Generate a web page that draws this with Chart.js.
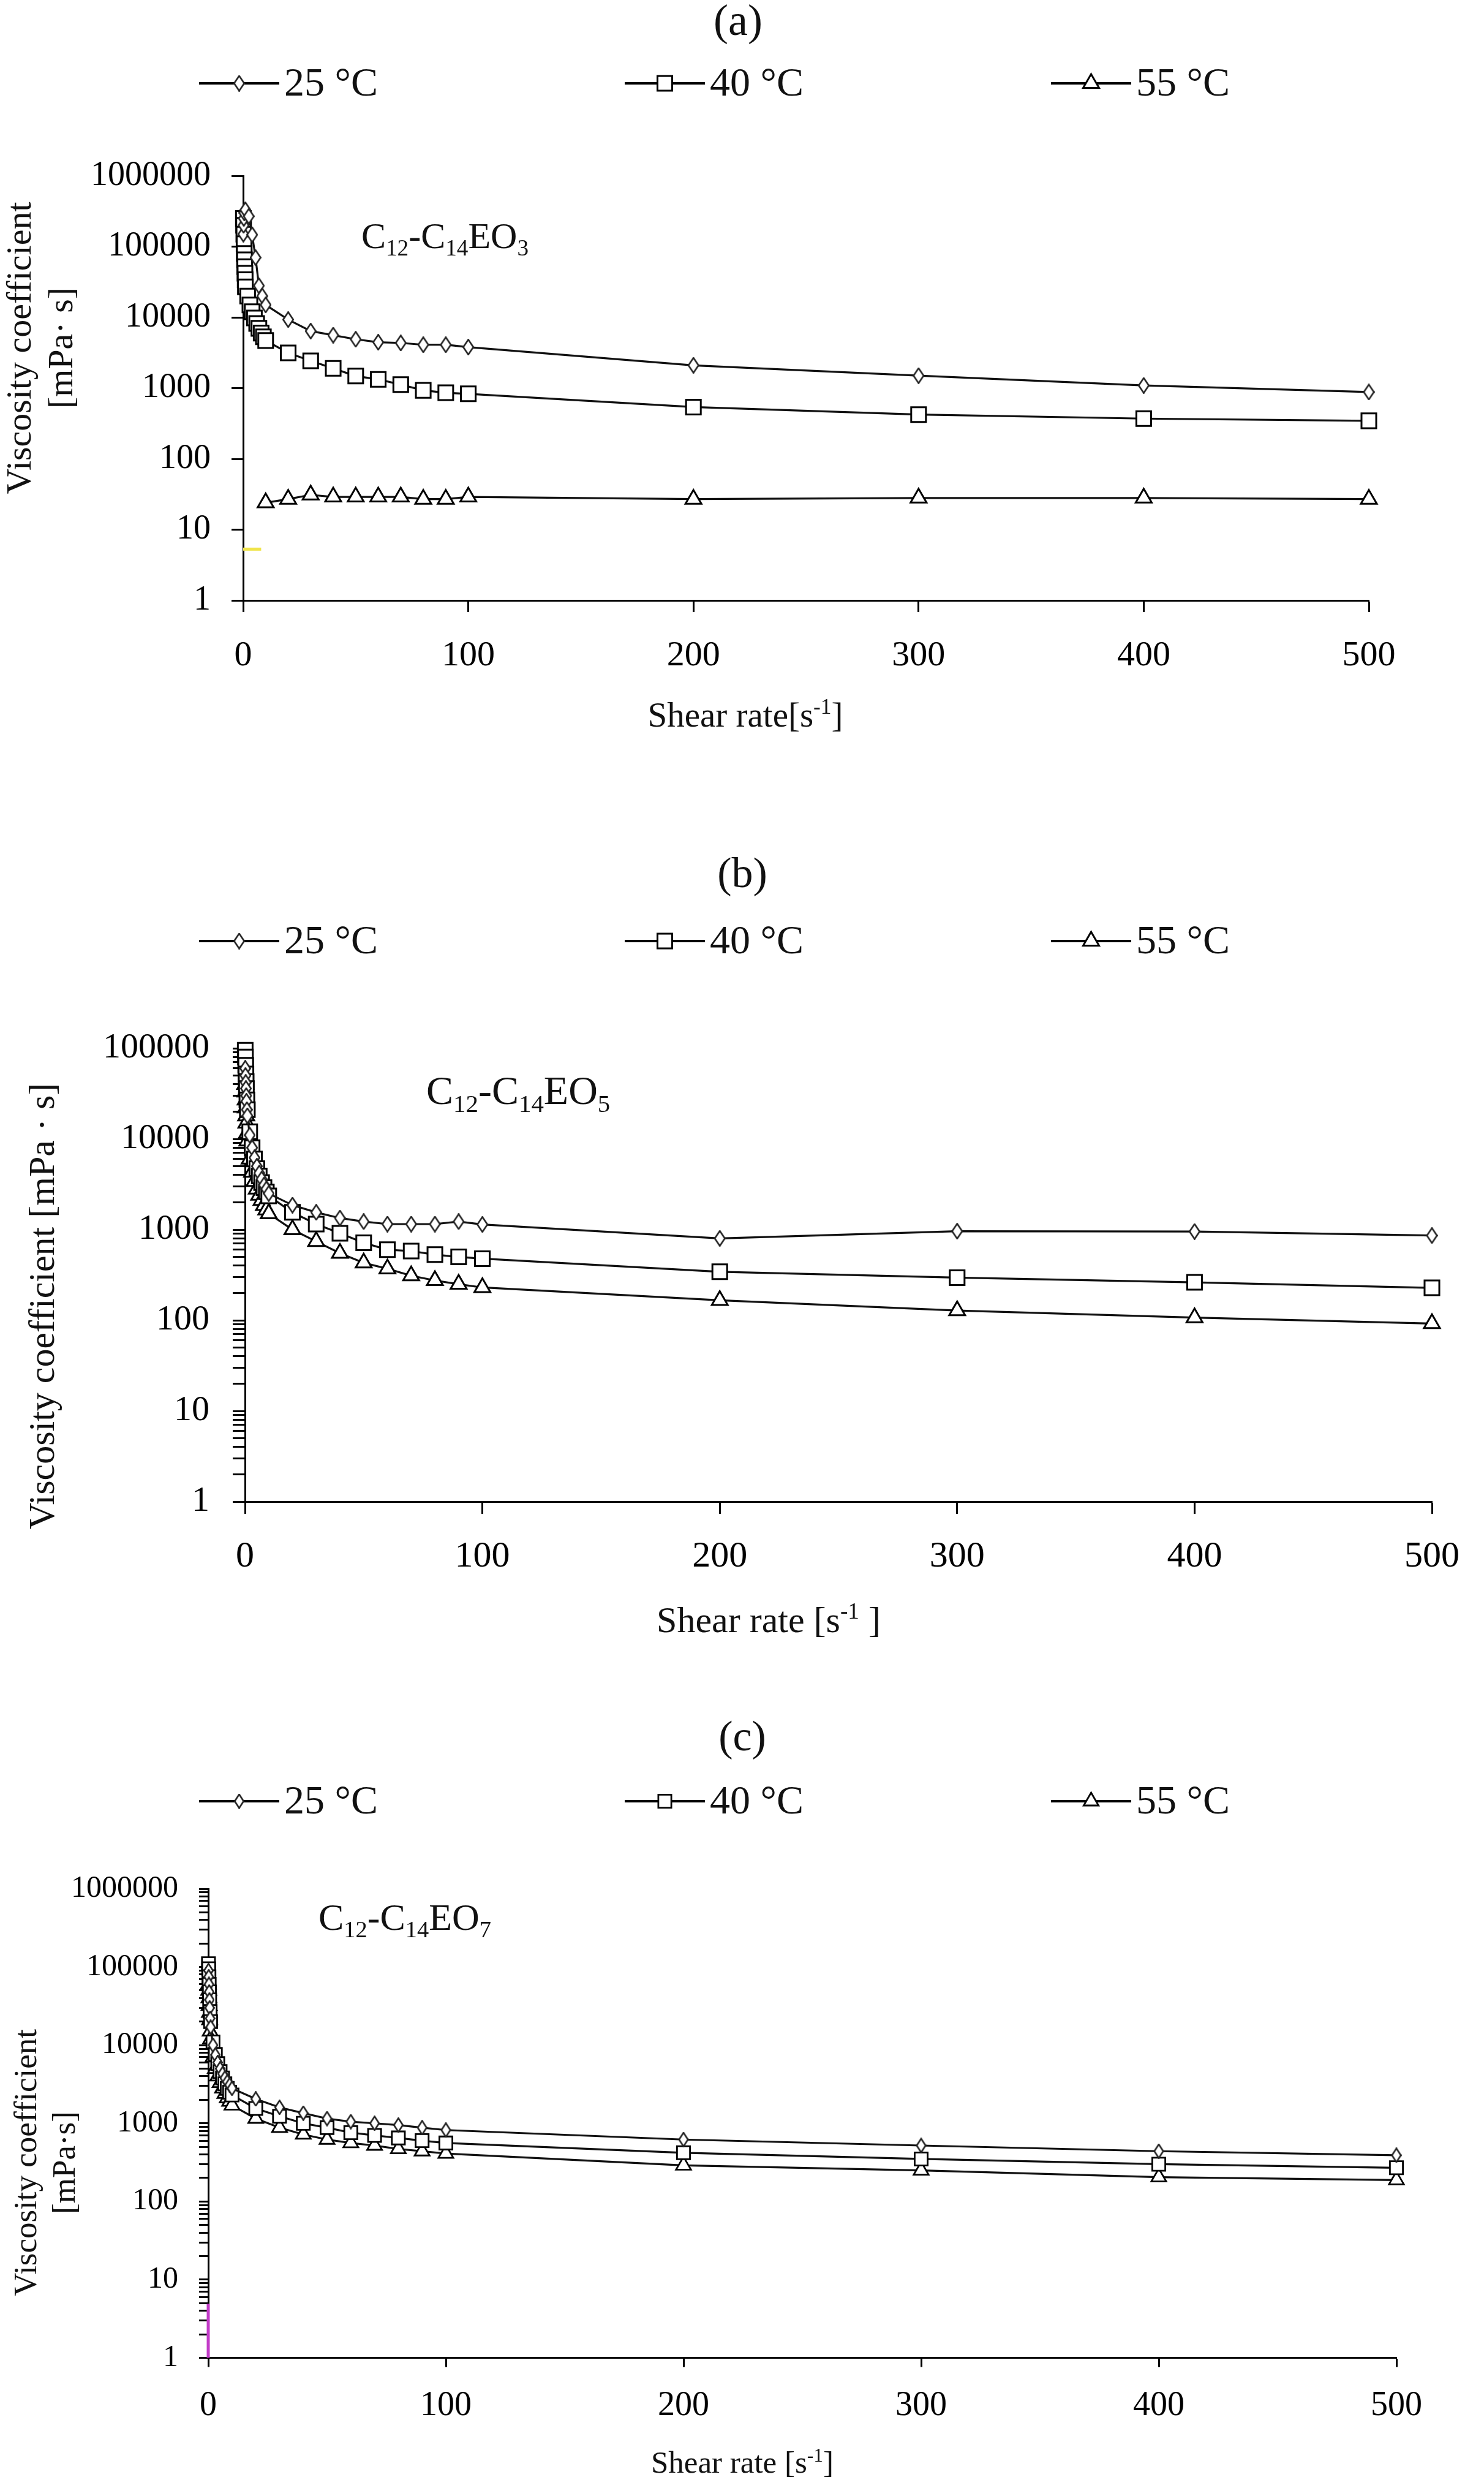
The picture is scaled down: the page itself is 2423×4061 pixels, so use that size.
<!DOCTYPE html>
<html>
<head>
<meta charset="utf-8">
<script src="https://cdn.jsdelivr.net/npm/chart.js@4.4.1/dist/chart.umd.min.js"></script>
<style>
  html, body { margin: 0; padding: 0; background: #fff; }
  #page { position: relative; width: 2423px; height: 4061px; background: #fff; }
  #page canvas { position: absolute; left: 0; }
</style>
</head>
<body>
<div id="page">
  <canvas id="chartA" width="2423" height="1250" style="top:0px"></canvas>
  <canvas id="chartB" width="2423" height="1420" style="top:1300px"></canvas>
  <canvas id="chartC" width="2423" height="1301" style="top:2760px"></canvas>
</div>
<script>
const SERIF = '"Liberation Serif", "Times New Roman", serif';

// ---- data ----
const tempLabels = ['25 °C', '40 °C', '55 °C'];
const xTickValues = [0, 100, 200, 300, 400, 500];
const decadesA = [1, 10, 100, 1000, 10000, 100000, 1000000];
const decadesB = [1, 10, 100, 1000, 10000, 100000];
const decadesC = [1, 10, 100, 1000, 10000, 100000, 1000000];

// (a) C12-C14EO3
const shearA25 = [0.1, 0.2, 0.3, 0.5, 1, 2.5, 4, 5.5, 7, 8.5, 10, 20, 30, 40, 50, 60, 70, 80, 90, 100, 200, 300, 400, 500];
const viscA25 = [150000, 200000, 250000, 300000, 330000, 268000, 147000, 70000, 28000, 20000, 15000, 9300, 6400, 5600, 4900, 4450, 4350, 4100, 4100, 3800, 2100, 1500, 1090, 880];
const shearA40 = [0.1, 0.2, 0.3, 0.4, 0.5, 0.6, 0.7, 0.8, 0.9, 1, 2, 3, 4, 5, 6, 7, 8, 9, 10, 20, 30, 40, 50, 60, 70, 80, 90, 100, 200, 300, 400, 500];
const viscA40 = [250000, 200000, 150000, 110000, 80000, 65000, 52000, 42000, 34000, 27000, 20000, 15000, 12000, 9800, 8200, 7000, 6000, 5300, 4700, 3150, 2430, 1900, 1480, 1330, 1120, 930, 860, 830, 540, 423, 371, 345];
const shearA55 = [10, 20, 30, 40, 50, 60, 70, 80, 90, 100, 200, 300, 400, 500];
const viscA55 = [24, 27, 31, 29, 29, 29, 29, 27, 27, 29, 27, 28, 28, 27];
const shearAMark = [0, 8];
const viscAMark = [5.3, 5.3];

// (b) C12-C14EO5
const shearB = [0.1, 0.2, 0.3, 0.4, 0.5, 0.6, 0.8, 1, 2, 3, 4, 5, 6, 7, 8, 9, 10, 20, 30, 40, 50, 60, 70, 80, 90, 100, 200, 300, 400, 500];
const viscB25 = [60000, 50000, 42000, 36000, 30000, 26000, 21000, 18000, 11000, 8000, 6200, 5000, 4200, 3600, 3100, 2800, 2500, 1860, 1550, 1340, 1225, 1150, 1150, 1150, 1225, 1140, 800, 960, 953, 860];
const viscB40 = [95000, 80000, 65000, 52000, 43000, 36000, 27000, 21000, 12000, 8000, 6000, 4700, 3900, 3300, 2900, 2600, 2350, 1550, 1150, 910, 716, 600, 580, 530, 500, 478, 343, 295, 262, 228];
const viscB55 = [40000, 33000, 27000, 22000, 18000, 15000, 11500, 9500, 6000, 4300, 3400, 2800, 2400, 2100, 1850, 1650, 1500, 1000, 740, 550, 430, 370, 310, 275, 250, 230, 166, 128, 107, 92];

// (c) C12-C14EO7
const shearC = [0.1, 0.2, 0.3, 0.4, 0.5, 0.6, 0.8, 1, 2, 3, 4, 5, 6, 7, 8, 9, 10, 20, 30, 40, 50, 60, 70, 80, 90, 100, 200, 300, 400, 500];
const viscC25 = [90000, 75000, 60000, 48000, 38000, 30000, 22000, 17000, 10000, 7500, 6000, 5000, 4300, 3800, 3400, 3100, 2800, 2050, 1600, 1350, 1150, 1050, 1000, 950, 880, 820, 620, 520, 440, 390];
const viscC40 = [110000, 95000, 75000, 60000, 48000, 38000, 27000, 20000, 11000, 7600, 5800, 4600, 3800, 3200, 2800, 2500, 2300, 1550, 1230, 1000, 880, 760, 700, 650, 600, 560, 420, 350, 300, 270];
const viscC55 = [60000, 50000, 40000, 32000, 26000, 21000, 15000, 12000, 7000, 5000, 4000, 3300, 2800, 2400, 2100, 1900, 1700, 1150, 880, 720, 620, 560, 520, 470, 440, 410, 290, 250, 205, 188];
const shearCMark = [0, 0];
const viscCMark = [1, 4.9];

// ---- layout per panel ----
const panelA = {
  canvas: 'chartA', H: 1250, plotLeft: 397, plotRight: 2235, plotTop: 287, plotBottom: 980,
  decades: decadesA, minor: false, tickLen: 19, yTickFont: 56, yTickPad: 34, xTickFont: 58, xTickPad: 37,
  letter: '(a)', letterX: 1205, letterY: 38, letterSize: 72,
  legendY: 136, legendFont: 66,
  compound: [['C', 0], ['12', 1], ['-', 0], ['C', 0], ['14', 1], ['EO', 0], ['3', 1]],
  compoundX: 590, compoundY: 405, compoundSize: 60,
  yTitle: ['Viscosity coefficient', '[mPa· s]'], yTitleX: [35, 103], yTitleY: 568, yTitleSize: 58,
  xTitle: [['Shear rate[s', 0], ['-1', 2], [']', 0]], xTitleX: 1217, xTitleY: 1186, xTitleSize: 57,
  rectR: 17, triR: 15, diamondW: 19, diamondH: 27, markLW: 3,
  markColor: '#f0e44a', markX: shearAMark, markY: viscAMark
};
const panelB = {
  canvas: 'chartB', H: 1420, plotLeft: 400, plotRight: 2338, plotTop: 411, plotBottom: 1151,
  decades: decadesB, minor: true, tickLen: 20, yTickFont: 58, yTickPad: 38, xTickFont: 60, xTickPad: 34,
  letter: '(b)', letterX: 1212, letterY: 130, letterSize: 70,
  legendY: 236, legendFont: 66,
  compound: [['C', 0], ['12', 1], ['-', 0], ['C', 0], ['14', 1], ['EO', 0], ['5', 1]],
  compoundX: 696, compoundY: 502, compoundSize: 66,
  yTitle: ['Viscosity coefficient [mPa · s]'], yTitleX: [72], yTitleY: 832, yTitleSize: 60,
  xTitle: [['Shear rate [s', 0], ['-1', 2], [' ]', 0]], xTitleX: 1255, xTitleY: 1364, xTitleSize: 60,
  rectR: 17, triR: 15, diamondW: 19, diamondH: 27, markLW: 3,
  markColor: null
};
const panelC = {
  canvas: 'chartC', H: 1301, plotLeft: 340, plotRight: 2280, plotTop: 323, plotBottom: 1088.5,
  decades: decadesC, minor: true, tickLen: 15, yTickFont: 50, yTickPad: 34, xTickFont: 56, xTickPad: 30,
  letter: '(c)', letterX: 1212, letterY: 79, letterSize: 70,
  legendY: 180, legendFont: 66,
  compound: [['C', 0], ['12', 1], ['-', 0], ['C', 0], ['14', 1], ['EO', 0], ['7', 1]],
  compoundX: 520, compoundY: 390, compoundSize: 62,
  yTitle: ['Viscosity coefficient', '[mPa·s]'], yTitleX: [45, 108], yTitleY: 770, yTitleSize: 53,
  xTitle: [['Shear rate [s', 0], ['-1', 2], [']', 0]], xTitleX: 1212, xTitleY: 1276, xTitleSize: 51,
  rectR: 15, triR: 14, diamondW: 17, diamondH: 25, markLW: 2.8,
  markColor: '#c23bc8', markX: shearCMark, markY: viscCMark
};
const legendX = [325, 1020, 1716];
const legendLen = 131;
const X_AXIS_H = 150;

// ---- helpers ----
function pts(xs, ys) {
  return xs.map((x, i) => ({ x: x, y: ys[i] }));
}

function isDecade(v) {
  const l = Math.log10(v);
  return Math.abs(l - Math.round(l)) < 1e-9;
}

function logTicks(decades, minor) {
  if (!minor) return decades.slice();
  const out = [];
  decades.forEach((d, i) => {
    if (i === decades.length - 1) { out.push(d); return; }
    for (let k = 1; k <= 9; k++) out.push(k * d);
  });
  return out;
}

function makeDiamond(w, h, lw, color) {
  const c = document.createElement('canvas');
  c.width = w; c.height = h;
  const g = c.getContext('2d');
  g.beginPath();
  g.moveTo(w / 2, lw / 2);
  g.lineTo(w - lw / 2, h / 2);
  g.lineTo(w / 2, h - lw / 2);
  g.lineTo(lw / 2, h / 2);
  g.closePath();
  g.fillStyle = '#fff';
  g.fill();
  g.lineWidth = lw;
  g.strokeStyle = color;
  g.stroke();
  return c;
}

function fontFor(kind, size) {
  const s = kind === 0 ? size : size * 0.62;
  return s + 'px ' + SERIF;
}

function drawRich(ctx, parts, x, y, size, centered) {
  const widths = parts.map(p => { ctx.font = fontFor(p[1], size); return ctx.measureText(p[0]).width; });
  const total = widths.reduce((a, b) => a + b, 0);
  let cx = centered ? x - total / 2 : x;
  ctx.textAlign = 'left';
  ctx.textBaseline = 'alphabetic';
  parts.forEach((p, i) => {
    ctx.font = fontFor(p[1], size);
    const dy = p[1] === 1 ? size * 0.2 : (p[1] === 2 ? -size * 0.36 : 0);
    ctx.fillText(p[0], cx, y + dy);
    cx += widths[i];
  });
}

function drawMarker(ctx, idx, x, y, p, diamond) {
  ctx.save();
  ctx.lineWidth = p.markLW;
  ctx.strokeStyle = '#000';
  ctx.fillStyle = '#fff';
  if (idx === 0) {
    ctx.drawImage(diamond, x - diamond.width / 2, y - diamond.height / 2);
  } else if (idx === 1) {
    const s = Math.SQRT1_2 * p.rectR;
    ctx.beginPath(); ctx.rect(x - s, y - s, 2 * s, 2 * s); ctx.fill(); ctx.stroke();
  } else {
    const r = p.triR;
    ctx.beginPath();
    ctx.moveTo(x, y - r);
    ctx.lineTo(x + r * Math.sin(2 * Math.PI / 3), y + r / 2);
    ctx.lineTo(x - r * Math.sin(2 * Math.PI / 3), y + r / 2);
    ctx.closePath(); ctx.fill(); ctx.stroke();
  }
  ctx.restore();
}

function makeDecor(p, diamond) {
  return {
    id: 'decor',
    afterDraw(chart) {
      const ctx = chart.ctx;
      ctx.save();
      ctx.fillStyle = '#111';
      // panel letter
      ctx.textAlign = 'center';
      ctx.textBaseline = 'middle';
      ctx.font = p.letterSize + 'px ' + SERIF;
      ctx.fillText(p.letter, p.letterX, p.letterY);
      // legend
      tempLabels.forEach((lab, i) => {
        const x0 = legendX[i], x1 = x0 + legendLen, y = p.legendY;
        ctx.strokeStyle = '#000';
        ctx.lineWidth = 4;
        ctx.beginPath(); ctx.moveTo(x0, y); ctx.lineTo(x1, y); ctx.stroke();
        drawMarker(ctx, i, (x0 + x1) / 2, y, p, diamond);
        ctx.fillStyle = '#111';
        ctx.font = p.legendFont + 'px ' + SERIF;
        ctx.textAlign = 'left';
        ctx.textBaseline = 'middle';
        ctx.fillText(lab, x1 + 8, y + 3);
      });
      // compound name
      drawRich(ctx, p.compound, p.compoundX, p.compoundY, p.compoundSize, false);
      // x title
      drawRich(ctx, p.xTitle, p.xTitleX, p.xTitleY, p.xTitleSize, true);
      // y title
      ctx.font = p.yTitleSize + 'px ' + SERIF;
      p.yTitle.forEach((line, i) => {
        ctx.save();
        ctx.translate(p.yTitleX[i], p.yTitleY);
        ctx.rotate(-Math.PI / 2);
        ctx.textAlign = 'center';
        ctx.textBaseline = 'middle';
        ctx.fillText(line, 0, 0);
        ctx.restore();
      });
      ctx.restore();
    }
  };
}

function buildPanel(p, series) {
  const diamond = makeDiamond(p.diamondW, p.diamondH, 2.6, '#222');
  const common = {
    borderColor: '#111', borderWidth: 3.2, tension: 0, clip: false,
    pointBorderColor: '#000', pointBackgroundColor: '#fff', pointBorderWidth: p.markLW
  };
  const datasets = [
    Object.assign({}, common, { label: tempLabels[0], data: series[0], pointStyle: diamond, pointRadius: p.diamondH / 2 }),
    Object.assign({}, common, { label: tempLabels[1], data: series[1], pointStyle: 'rect', pointRadius: p.rectR }),
    Object.assign({}, common, { label: tempLabels[2], data: series[2], pointStyle: 'triangle', pointRadius: p.triR })
  ];
  if (p.markColor) {
    datasets.push({ label: 'mark', data: pts(p.markX, p.markY), borderColor: p.markColor, borderWidth: 5, pointRadius: 0, clip: false });
  }
  const yTicks = logTicks(p.decades, p.minor);
  const W = 2423;
  return new Chart(document.getElementById(p.canvas), {
    type: 'line',
    data: { datasets: datasets },
    options: {
      responsive: false,
      animation: false,
      devicePixelRatio: 1,
      events: [],
      layout: {
        padding: { left: 0, right: W - p.plotRight, top: p.plotTop, bottom: p.H - p.plotBottom - X_AXIS_H }
      },
      plugins: { legend: { display: false }, tooltip: { enabled: false }, title: { display: false } },
      scales: {
        x: {
          type: 'linear', min: 0, max: 500,
          afterFit: s => { s.height = X_AXIS_H; },
          afterBuildTicks: s => { s.ticks = xTickValues.map(v => ({ value: v })); },
          ticks: { color: '#000', autoSkip: false, maxRotation: 0, padding: p.xTickPad, font: { family: SERIF, size: p.xTickFont } },
          grid: { drawOnChartArea: false, drawTicks: true, tickLength: p.tickLen, tickWidth: 3, tickColor: '#000', color: '#000' },
          border: { display: true, color: '#000', width: 3 }
        },
        y: {
          type: 'logarithmic', min: 1, max: p.decades[p.decades.length - 1],
          afterFit: s => { s.width = p.plotLeft; },
          afterBuildTicks: s => { s.ticks = yTicks.map(v => ({ value: v, major: isDecade(v) })); },
          ticks: {
            color: '#000', autoSkip: false, padding: p.yTickPad,
            font: { family: SERIF, size: p.yTickFont },
            callback: v => isDecade(v) ? String(Math.round(v)) : ''
          },
          grid: { drawOnChartArea: false, drawTicks: true, tickLength: p.tickLen, tickWidth: 3, tickColor: '#000', color: '#000' },
          border: { display: true, color: '#000', width: 3 }
        }
      }
    },
    plugins: [makeDecor(p, diamond)]
  });
}

buildPanel(panelA, [pts(shearA25, viscA25), pts(shearA40, viscA40), pts(shearA55, viscA55)]);
buildPanel(panelB, [pts(shearB, viscB25), pts(shearB, viscB40), pts(shearB, viscB55)]);
buildPanel(panelC, [pts(shearC, viscC25), pts(shearC, viscC40), pts(shearC, viscC55)]);
</script>
</body>
</html>
